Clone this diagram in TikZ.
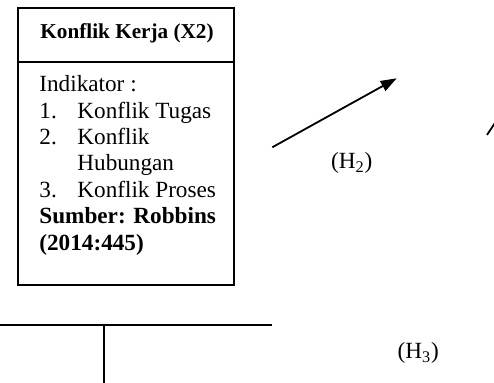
\documentclass[tikz,border=0pt]{standalone}
\usepackage{fontspec}
\setmainfont{Liberation Serif}
\usetikzlibrary{arrows.meta}
\begin{document}
\begin{tikzpicture}[x=0.5pt,y=-0.5pt,
  every node/.style={font=\fontsize{11.6}{13}\selectfont},
  boxpart/.style={draw,line width=0.9pt,minimum width=108pt,inner sep=0pt,anchor=north west},
  txt/.style={anchor=base west,inner sep=0pt},
  conn/.style={line width=0.9pt},
  lbl/.style={inner sep=0pt}]
\useasboundingbox (0,0) rectangle (494,383);
\clip (0,0) rectangle (494,383);
% box
\node[boxpart,minimum height=27pt] (head) at (17,7) {};
\node[boxpart,minimum height=111.5pt] (body) at (17,61) {};
\node[inner sep=0pt,anchor=base,font=\fontsize{10.6}{12}\selectfont\bfseries] (title) at (127,39) {Konflik Kerja (X2)};
\node[txt] (ind) at (39,92) {Indikator :};
\node[txt] (n1) at (39,118.3) {1.};
\node[txt] (t1) at (77,118.3) {Konflik Tugas};
\node[txt] (n2) at (39,144.7) {2.};
\node[txt] (t2) at (77,144.7) {Konflik};
\node[txt] (t2b) at (77,171) {Hubungan};
\node[txt] (n3) at (39,197.4) {3.};
\node[txt] (t3) at (77,197.4) {Konflik Proses};
\node[txt] (src1) at (39,223.8) {\textbf{Sumber: Robbins}};
\node[txt] (src2) at (39,250.2) {\textbf{(2014:445)}};
% connectors
\coordinate (a1) at (272.3,147.3);
\coordinate (a2) at (396.7,78.3);
\draw[conn,-{Triangle[length=8pt,width=5.5pt]}] (a1) -- (a2);
\node[lbl] (h2) at (351.7,163.3) {(H\textsubscript{2})};
\coordinate (r1) at (487,135);
\coordinate (r2) at (498,118.5);
\draw[conn] (r1) -- (r2);
\coordinate (b1) at (0,325);
\coordinate (b2) at (272,325);
\coordinate (bm) at (104,325);
\coordinate (bd) at (104,384);
\draw[conn] (b1) -- (b2);
\draw[conn] (bm) -- (bd);
\node[lbl] (h3) at (418.3,353.3) {(H\textsubscript{3})};
\end{tikzpicture}
\end{document}
